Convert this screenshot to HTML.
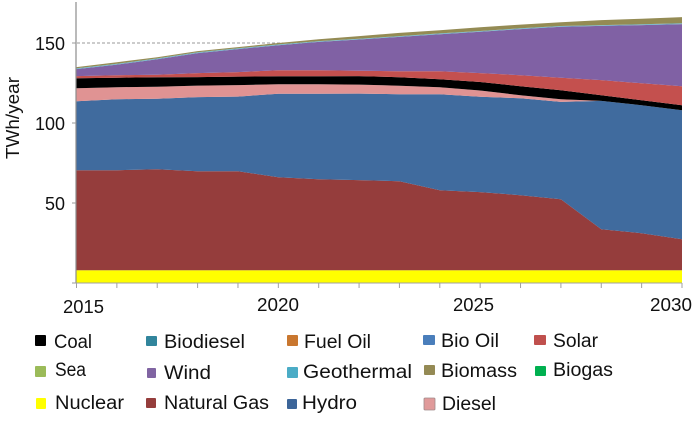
<!DOCTYPE html>
<html lang="en">
<head>
<meta charset="utf-8">
<title>Electricity generation by source, 2015–2030</title>
<style>
html,body{margin:0;padding:0;background:#fff;}
svg{display:block;filter:blur(0.35px);}
text{font-family:"Liberation Sans",sans-serif;fill:#111;}
.leg{font-size:19px;}
.tick{font-size:18px;}
</style>
</head>
<body>
<svg id="chart" width="700" height="425" viewBox="0 0 700 425" xmlns="http://www.w3.org/2000/svg">
  <g id="grid"></g>
  <g id="areas"></g>
  <g id="axes"></g>

  <text class="tick" transform="translate(19,159) rotate(-90)" textLength="82" lengthAdjust="spacingAndGlyphs">TWh/year</text>

  <g>
    <text class="tick" x="63" y="313" textLength="41" lengthAdjust="spacingAndGlyphs">2015</text>
    <text class="tick" x="257" y="311" textLength="42" lengthAdjust="spacingAndGlyphs">2020</text>
    <text class="tick" x="453" y="311" textLength="41" lengthAdjust="spacingAndGlyphs">2025</text>
    <text class="tick" x="650" y="311" textLength="42" lengthAdjust="spacingAndGlyphs">2030</text>
  </g>

  <g>
    <g><rect x="35" y="335" width="11" height="11" rx="1" fill="#000"/><text class="leg" x="54" y="348" textLength="38" lengthAdjust="spacingAndGlyphs">Coal</text></g>
    <g><rect x="146" y="336" width="11" height="10" rx="1" fill="#31859c"/><text class="leg" x="164" y="348" textLength="81" lengthAdjust="spacingAndGlyphs">Biodiesel</text></g>
    <g><rect x="287" y="335" width="11" height="11" rx="1" fill="#c9772f"/><text class="leg" x="304" y="348" textLength="67" lengthAdjust="spacingAndGlyphs">Fuel Oil</text></g>
    <g><rect x="423" y="335" width="12" height="10" rx="1" fill="#4a7ebb"/><text class="leg" x="441" y="347" textLength="58" lengthAdjust="spacingAndGlyphs">Bio Oil</text></g>
    <g><rect x="534" y="335" width="12" height="10" rx="1" fill="#c0504d"/><text class="leg" x="553" y="347" textLength="45" lengthAdjust="spacingAndGlyphs">Solar</text></g>

    <g><rect x="35" y="366" width="11" height="11" rx="1" fill="#9bbb59"/><text class="leg" x="55" y="376" textLength="31" lengthAdjust="spacingAndGlyphs">Sea</text></g>
    <g><rect x="147" y="368" width="9" height="10" rx="1" fill="#8064a2"/><text class="leg" x="164" y="379" textLength="47" lengthAdjust="spacingAndGlyphs">Wind</text></g>
    <g><rect x="287" y="367" width="11" height="11" rx="1" fill="#4bacc6"/><text class="leg" x="303" y="378" textLength="109" lengthAdjust="spacingAndGlyphs">Geothermal</text></g>
    <g><rect x="424" y="365" width="11" height="10" rx="1" fill="#948a54"/><text class="leg" x="441" y="377" textLength="76" lengthAdjust="spacingAndGlyphs">Biomass</text></g>
    <g><rect x="535" y="366" width="11" height="10" rx="1" fill="#00b050"/><text class="leg" x="553" y="376" textLength="60" lengthAdjust="spacingAndGlyphs">Biogas</text></g>

    <g><rect x="36" y="398" width="10" height="11" rx="1" fill="#ffff00"/><text class="leg" x="55" y="409" textLength="69" lengthAdjust="spacingAndGlyphs">Nuclear</text></g>
    <g><rect x="146" y="398" width="10" height="10" rx="1" fill="#953d3c"/><text class="leg" x="164" y="409" textLength="105" lengthAdjust="spacingAndGlyphs">Natural Gas</text></g>
    <g><rect x="287" y="399" width="10" height="10" rx="1" fill="#3c6599"/><text class="leg" x="302" y="409" textLength="55" lengthAdjust="spacingAndGlyphs">Hydro</text></g>
    <g><rect x="424" y="398" width="11" height="12" rx="1" fill="#e09a9a" stroke="#a08a8a" stroke-width="0.8"/><text class="leg" x="442" y="410" textLength="54" lengthAdjust="spacingAndGlyphs">Diesel</text></g>
  </g>
</svg>

<script>
const years = [2015,2016,2017,2018,2019,2020,2021,2022,2023,2024,2025,2026,2027,2028,2029,2030];
const yTicks = [0,50,100,150];
const yTickLabels = ["","50","100","150"];
const gridValues = [150];

const nuclear = [8,8,8,8,8,8,8,8,8,8,8,8,8,8,8,8];
const naturalGas = [62.5,62.5,63.1,61.9,61.9,58.1,56.9,56.3,55.6,50,48.8,46.9,44.4,25.6,23.1,19.4];
const hydro = [43.1,44.4,44.1,46.3,46.6,52.2,53.4,54.1,54.4,60,59.6,60.6,60.8,80.2,80,80.6];
const diesel = [8.1,7.5,7.5,7.2,7.2,5.9,5.9,5.6,5.3,4.4,3.9,1.9,1.7,0,0,0];
const coal = [6.3,5.9,5.9,5.3,5.3,5,5,5.3,5.3,5,5.3,5.6,5.6,3.6,3.1,3.1];
const solar = [1.3,1.6,1.6,2.5,2.8,3.8,3.8,3.4,3.8,5,5.6,6.9,7.8,9.4,10.6,11.9];
const wind = [4.4,6.6,9.7,12.5,14.4,15.6,17.7,19.5,21.4,23.1,25.8,28.8,31.8,33.9,36.4,38.8];
const geothermal = [0.5,0.5,0.5,0.5,0.5,0.5,0.5,0.5,0.5,0.5,0.5,0.5,0.5,0.5,0.5,0.5];
const biomass = [0.75,1,0.75,0.75,0.75,0.9,1.2,1.6,2,2,2.4,2.3,2.4,3.1,3.4,3.9];

const NS = "http://www.w3.org/2000/svg";
const xScale = function (year) { return 76.5 + (year - 2015) * (682 - 76.5) / 15; };
const yScale = function (v) { return 283 - v * 1.6; };

function make(tag, attrs, parent) {
  const el = document.createElementNS(NS, tag);
  Object.keys(attrs).forEach(function (k) { el.setAttribute(k, attrs[k]); });
  parent.appendChild(el);
  return el;
}

const gridGroup = document.getElementById("grid");
gridValues.forEach(function (v) {
  const line = make("line", {x1: 72, x2: 682, y1: yScale(v), y2: yScale(v), stroke: "#9a9a9a", "stroke-width": 1, "stroke-dasharray": "3 2"}, gridGroup);
  
  
});

function drawLayer(values, baseline, fill, name) {
  const top = baseline.map(function (b, i) { return b + values[i]; });
  let pts = [];
  years.forEach(function (y, i) { pts.push(xScale(y).toFixed(1) + "," + yScale(top[i]).toFixed(1)); });
  for (let i = years.length - 1; i >= 0; i--) {
    pts.push(xScale(years[i]).toFixed(1) + "," + yScale(baseline[i]).toFixed(1));
  }
  const poly = make("polygon", {points: pts.join(" "), fill: fill}, document.getElementById("areas"));
  
  
  return top;
}

let base = years.map(function () { return 0; });
base = drawLayer(nuclear, base, "#ffff00", "area-nuclear");
base = drawLayer(naturalGas, base, "#953d3c", "area-natural-gas");
base = drawLayer(hydro, base, "#406b9e", "area-hydro");
base = drawLayer(diesel, base, "#e09393", "area-diesel");
base = drawLayer(coal, base, "#000000", "area-coal");
base = drawLayer(solar, base, "#c4504e", "area-solar");
base = drawLayer(wind, base, "#8061a4", "area-wind");
base = drawLayer(geothermal, base, "#6fb5c8", "area-geothermal");
base = drawLayer(biomass, base, "#948b54", "area-biomass");

const axes = document.getElementById("axes");
const yAxis = make("line", {x1: 76, x2: 76, y1: 2, y2: 283, stroke: "#8c8c8c", "stroke-width": 1.2}, axes);


const xAxis = make("line", {x1: 72, x2: 682, y1: 283, y2: 283, stroke: "#a0a0a0", "stroke-width": 1}, axes);



years.forEach(function (y) {
  const t = make("line", {x1: xScale(y), x2: xScale(y), y1: 283, y2: 288, stroke: "#a0a0a0", "stroke-width": 1}, axes);
  
  
});

yTicks.forEach(function (v, i) {
  const t = make("line", {x1: 72, x2: 76, y1: yScale(v), y2: yScale(v), stroke: "#9a9a9a", "stroke-width": 1}, axes);
  
  
  if (yTickLabels[i]) {
    const label = make("text", {x: 65, y: yScale(v) + 7, "text-anchor": "end", "class": "tick", textLength: yTickLabels[i].length * 10, lengthAdjust: "spacingAndGlyphs"}, axes);
    
    
    label.textContent = yTickLabels[i];
  }
});
</script>
</body>
</html>
